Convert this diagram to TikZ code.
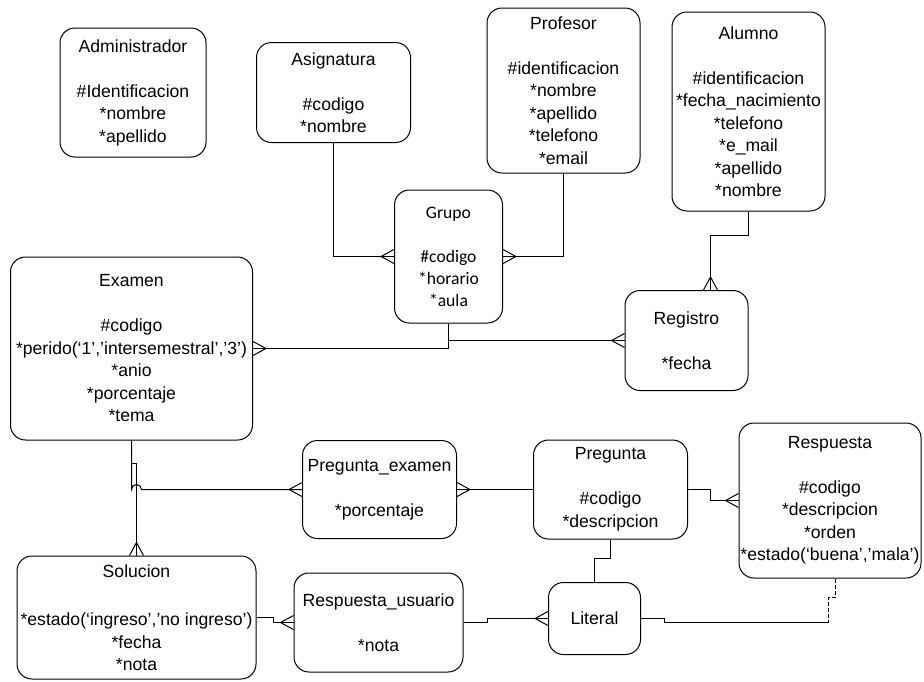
\documentclass[tikz,border=0pt]{standalone}
\usepackage{fontspec}
\setmainfont{Liberation Sans}
\newfontfamily\grupofont{Carlito}
\usetikzlibrary{calc, decorations.markings}
\tikzstyle{entidad} = [draw, rounded corners=15, align=center, inner sep=1pt, font=\fontsize{17.6}{22.5}\selectfont]
\tikzstyle{muchos} = [postaction={decorate, decoration={markings, mark=at position 1 with {\draw (-13,0) -- (0,7) (-13,0) -- (0,-7);}}}]

\begin{document}
\begin{tikzpicture}[x=1pt, y=-1pt, line width=1pt]
        \useasboundingbox (0,0) rectangle (924,681);
        % Node positions
        \node[entidad, minimum width=146, minimum height=129] (administrador) at (133,92.5) {Administrador\\[22.5pt]\#Identificacion\\{}*nombre\\{}*apellido};
        \node[entidad, minimum width=154, minimum height=100] (asignatura) at (333.5,92.5) {Asignatura\\[22.5pt]\#codigo\\{}*nombre};
        \node[entidad, minimum width=153, minimum height=165] (profesor) at (563.5,90.5) {Profesor\\[22.5pt]\#identificacion\\{}*nombre\\{}*apellido\\{}*telefono\\{}*email};
        \node[entidad, minimum width=153, minimum height=199] (alumno) at (748.5,111.5) {Alumno\\[22.5pt]\#identificacion\\{}*fecha\_nacimiento\\{}*telefono\\{}*e\_mail\\{}*apellido\\{}*nombre};
        \node[entidad, minimum width=108, minimum height=133, font=\grupofont\fontsize{17.6}{22}\selectfont] (grupo) at (448.5,256.5) {Grupo\\[22pt]\#codigo\\{}*horario\\{}*aula};
        \node[entidad, minimum width=123, minimum height=100] (registro) at (686.5,340.5) {Registro\\[22.5pt]*fecha};
        \node[entidad, minimum width=242, minimum height=183] (examen) at (131.5,348.5) {Examen\\[22.5pt]\#codigo\\{}*perido(‘1’,’intersemestral’,’3’)\\{}*anio\\{}*porcentaje\\{}*tema};
        \node[entidad, minimum width=154, minimum height=98] (pregexamen) at (379.5,489.5) {Pregunta\_examen\\[22.5pt]*porcentaje};
        \node[entidad, minimum width=154, minimum height=99] (pregunta) at (610.5,489.5) {Pregunta\\[22.5pt]\#codigo\\{}*descripcion};
        \node[entidad, minimum width=182, minimum height=155] (respuesta) at (830,500.5) {Respuesta\\[22.5pt]\#codigo\\{}*descripcion\\{}*orden\\{}*estado(‘buena’,’mala’)};
        \node[entidad, minimum width=239, minimum height=123] (solucion) at (136.5,617.5) {Solucion\\[26pt]*estado(‘ingreso’,’no ingreso’)\\{}*fecha\\{}*nota};
        \node[entidad, minimum width=169, minimum height=99] (respusuario) at (378.5,622.5) {Respuesta\_usuario\\[22.5pt]*nota};
        \node[entidad, minimum width=92, minimum height=72] (literal) at (594.5,618.5) {Literal};

        \draw[muchos] (asignatura.south) |- (grupo.west);
        \draw[muchos] (profesor.south) |- (grupo.east);
        \draw[muchos] (alumno.south) -- ++(0,24) -| ($(registro.north)+(24,0)$);
        \draw[muchos] (grupo.south) |- (registro.west);
        \draw[muchos] (grupo.south) |- ($(examen.east)+(0,0)$);
        \draw[muchos] (examen.south) -- (examen.south |- pregexamen.west) arc[start angle=180, end angle=360, radius=5] -- (pregexamen.west);
        \draw[muchos] (examen.south) -- ++(0,23) -| (solucion.north);
        \draw[muchos] (pregunta.west) -- (pregexamen.east);
        \draw[muchos] (pregunta.east) -- ++(22,0) |- (respuesta.west);
        \draw (pregunta.south) -- ++(0,19) -| (literal.north);
        \draw[muchos] (respusuario.east) -- ++(24,0) |- (literal.west);
        \draw[muchos] (solucion.east) -- ++(17,0) |- (respusuario.west);
        \draw[dash pattern=on 4pt off 2pt] ($(respuesta.south)+(5,0)$) -- ++(0,19) -- ++(-7,0) -- ++(0,25) coordinate (quiebre);
        \draw (quiebre) -- ++(-164,0) |- (literal.east);
\end{tikzpicture}
\end{document}
